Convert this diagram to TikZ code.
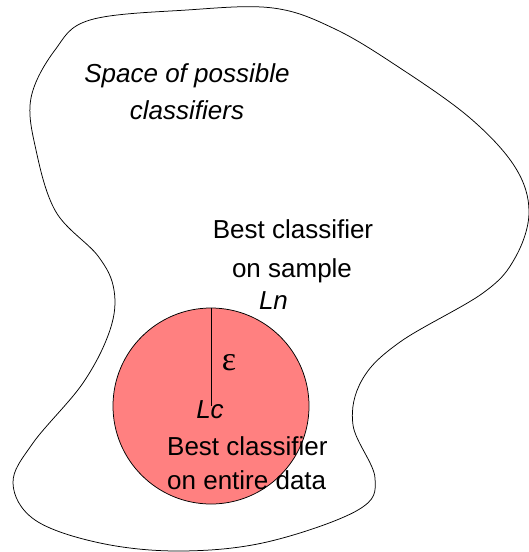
\documentclass[tikz,border=0pt]{standalone}
\usepackage{fontspec}
\setmainfont{Liberation Sans}
\newfontfamily\greekfont{Liberation Serif}
\definecolor{discfill}{RGB}{255,128,128}
\tikzset{
  lbl/.style={inner sep=0pt, font=\fontsize{26}{30}\selectfont},
  ilbl/.style={lbl, font=\fontsize{26}{30}\selectfont\itshape},
  outline/.style={draw=black, line width=0.75pt},
}
\begin{document}
\begin{tikzpicture}[x=1pt, y=-1pt]
\useasboundingbox (0,0) rectangle (528,552);

% outer region: the space of classifiers
\draw[outline] plot[smooth cycle, tension=0.6] coordinates {
  (90,20) (187,10) (273,8) (335,29) (400,68) (470,118)
  (515,167) (529,212) (515,258) (483,293) (400,342)
  (362,380) (353,425) (375,478) (358,510) (267,542)
  (180,551) (100,543) (35,520) (13,483) (33,443)
  (83,383) (110,330) (114,290) (98,256) (56,212)
  (36,150) (31,98) (55,50)};

% disc around the best classifier
\node[circle, draw=black, line width=0.75pt, fill=discfill,
      minimum size=196pt, inner sep=0pt] (disc) at (211,406) {};
\coordinate (lc) at (211,406);
\draw[line width=0.75pt] (disc.north) -- (lc);

% labels
\node[ilbl, anchor=base] (sp1) at (187,82) {Space of possible};
\node[ilbl, anchor=base] (sp2) at (187,119) {classifiers};
\node[lbl, anchor=base] (bs1) at (293,238) {Best classifier};
\node[lbl, anchor=base] (bs2) at (292,277) {on sample};
\node[ilbl, anchor=base] (ln) at (273.5,309) {Ln};
\node[inner sep=0pt, anchor=base, font=\fontsize{34}{36}\greekfont] (eps) at (229,370) {ε};
\node[ilbl, anchor=base] (lcl) at (210,418) {Lc};
\node[lbl, anchor=base west] (be1) at (167,455) {Best classifier};
\node[lbl, anchor=base west] (be2) at (167,489) {on entire data};
\end{tikzpicture}
\end{document}
